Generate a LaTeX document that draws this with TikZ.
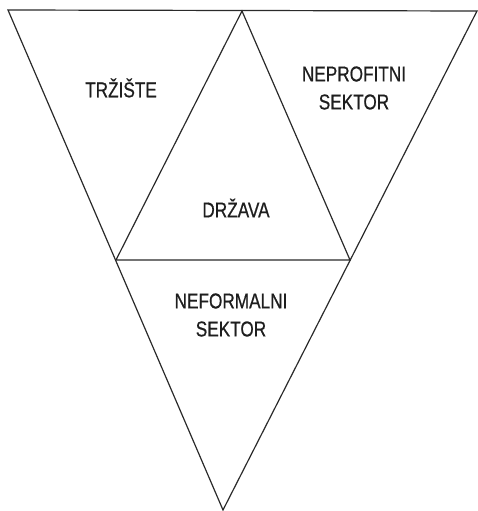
\documentclass[tikz,border=0pt]{standalone}
\usepackage{fontspec}
\newfontfamily\labelfont{Liberation Sans}[FakeStretch=0.8, FakeBold=0.6]
\usepackage{tikz}
\definecolor{edgeline}{HTML}{2A2A2A}
\definecolor{labeltext}{HTML}{1E1E1E}
\tikzset{
  edge/.style={draw=edgeline, line width=1.2pt, line join=miter},
  sector/.style={font=\labelfont\fontsize{21.5}{28}\selectfont, text=labeltext,
                 align=center, inner sep=0pt},
}
\begin{document}
\begin{tikzpicture}[x=1pt, y=-1pt]
  \useasboundingbox (0,0) rectangle (478,511);
  % outer triangle
  \coordinate (tl) at (8,10);
  \coordinate (tr) at (477,11);
  \coordinate (bot) at (223,510);
  % inner triangle
  \coordinate (apex) at (242,11);
  \coordinate (ml) at (116,260);
  \coordinate (mr) at (350,260);
  \draw[edge] (tl) -- (tr) -- (bot) -- cycle;
  \draw[edge] (ml) -- (apex) -- (mr) -- cycle;
  % labels
  \node[sector] (trziste) at (121,88) {TRŽIŠTE};
  \node[sector] (neprof) at (354,88) {NEPROFITNI\\SEKTOR};
  \node[sector] (drzava) at (236,208) {DRŽAVA};
  \node[sector] (neform) at (231,315) {NEFORMALNI\\SEKTOR};
\end{tikzpicture}
\end{document}
